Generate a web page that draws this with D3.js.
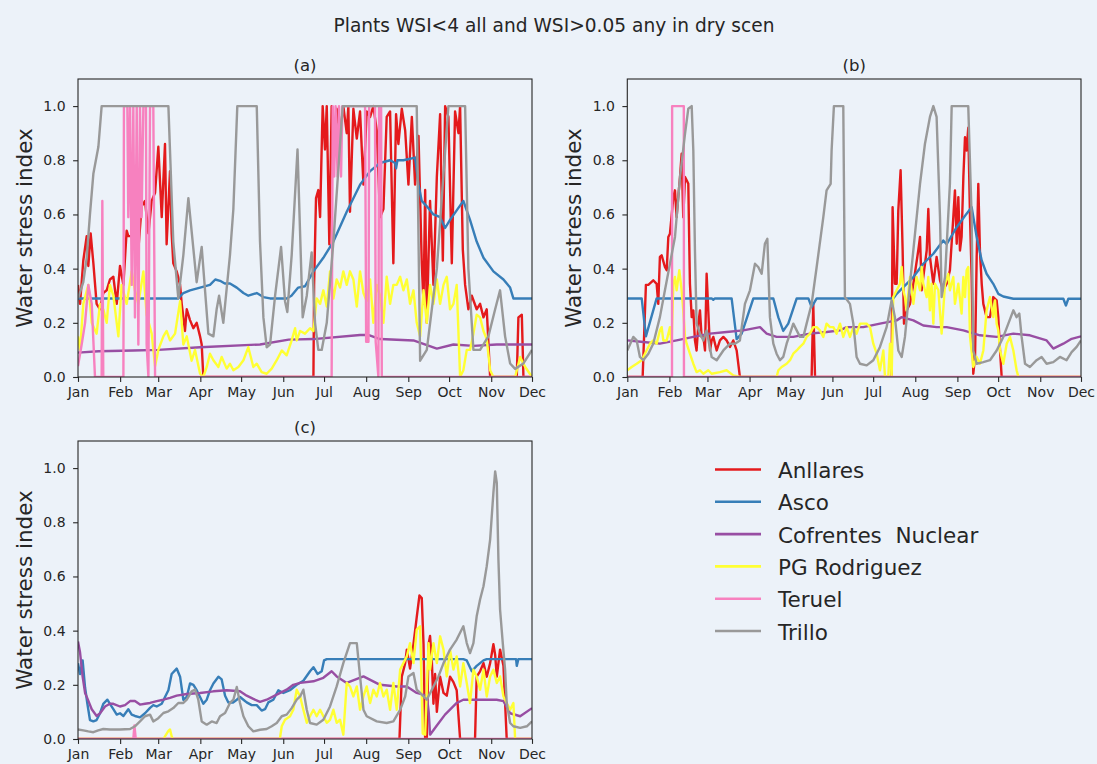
<!DOCTYPE html>
<html><head><meta charset="utf-8">
<script src="https://cdn.jsdelivr.net/npm/d3@7"></script>
<style>
body{margin:0;background:#ecf2f9}
svg{display:block}
text{font-family:"DejaVu Sans",sans-serif;fill:#262626}
</style>
</head><body>
<svg id="chart" width="1097" height="764"></svg>
<script>
const chartTitle = "Plants WSI<4 all and WSI>0.05 any in dry scen";
const panelTitles = ["(a)", "(b)", "(c)"];
const yLabel = "Water stress index";
const seriesNames = ["Anllares", "Asco", "Cofrentes  Nuclear", "PG Rodriguez", "Teruel", "Trillo"];
const seriesColors = ["#e41a1c", "#377eb8", "#984ea3", "#ffff33", "#f781bf", "#999999"];
const monthLabels = ["Jan","Feb","Mar","Apr","May","Jun","Jul","Aug","Sep","Oct","Nov","Dec"];
const yTicks = [0, 0.2, 0.4, 0.6, 0.8, 1.0];

// each series: [day of year (0 = 1 Jan), water stress index]
const a_anllares = [[0,0.34],[1.5,0.27],[3.9,0.43],[6.4,0.52],[7.6,0.41],[9.3,0.53],[11.3,0.42],[13.7,0.27],[16.2,0.25],[18.6,0.31],[21.1,0.32],[23.5,0.36],[26,0.37],[28.5,0.27],[30.9,0.41],[33.4,0.34],[35.8,0.54],[37,0.52],[39.5,0.52],[41.9,0.47],[44.4,0.47],[46.8,0.63],[49.3,0.65],[51.8,0.53],[54.2,0.65],[56.7,0.68],[59.1,0.85],[61.6,0.59],[64,0.86],[65.2,0.49],[67.7,0.76],[68.9,0.53],[70.1,0.42],[72.6,0.39],[75.1,0.34],[76.3,0.27],[78.7,0.17],[80,0.25],[82.4,0.21],[84.9,0.18],[87.3,0.2],[89.8,0.15],[91,0.12],[92.2,0],[173.2,0],[173.7,0.34],[175.1,0.66],[176.8,0.69],[178.1,0.59],[180,1.0],[181.7,0.84],[183,1.0],[184.9,0.49],[186.6,1.0],[189.1,0.84],[190.3,0.99],[192.8,0.9],[195.2,1.0],[197.7,0.9],[198.9,1.0],[200.1,0.61],[202.6,0.99],[205.1,0.88],[207.5,0.98],[210,0.71],[212.4,0.98],[214.9,0.96],[217.3,1.0],[219.8,0.91],[222.2,0.59],[224.7,0.62],[227.1,0.96],[229.6,0.98],[232,0.42],[234,0.97],[235.7,0.86],[238.2,0.99],[240.7,0.91],[243.1,0.71],[245.6,0.96],[248,0.71],[250.5,0.89],[252.9,0.42],[254.2,0.27],[255.4,0.69],[256.6,0.2],[259,0.65],[261.5,0.34],[264,0.74],[266.4,0.97],[268.4,0.43],[270.1,1.0],[272.5,0.96],[275,0.42],[277.4,0.98],[279.9,0.9],[281.1,1.0],[283.1,0.47],[284.8,0.34],[287.2,0.25],[289.7,0.3],[293.3,0.25],[295.8,0.27],[298.3,0.22],[300.7,0.25],[303.2,0],[322.8,0],[324,0.22],[326.5,0.23],[327.7,0],[334,0]];
const a_asco = [[0,0.29],[73.8,0.29],[77.5,0.31],[82.4,0.32],[89.8,0.33],[97.1,0.34],[101,0.36],[104.5,0.355],[108,0.345],[111.8,0.345],[116.8,0.33],[121.7,0.31],[125.3,0.3],[131.5,0.31],[136.4,0.295],[141.3,0.29],[153.5,0.29],[157,0.3],[162,0.33],[167,0.335],[173.2,0.39],[180.5,0.44],[187.9,0.5],[197.7,0.61],[207.5,0.71],[214.9,0.76],[222.2,0.79],[229.6,0.8],[233.3,0.79],[234,0.77],[235,0.8],[239.4,0.8],[248,0.81],[250.5,0.71],[252.9,0.65],[256.6,0.63],[261.5,0.6],[266.4,0.59],[270.1,0.55],[273.7,0.58],[278.6,0.615],[283.5,0.65],[288.4,0.58],[293.3,0.5],[298.3,0.44],[305.6,0.39],[313,0.36],[317.9,0.33],[320.3,0.29],[334,0.29]];
const a_cofrentes = [[0,0.09],[15,0.095],[40.7,0.098],[59,0.1],[89.8,0.11],[133.9,0.12],[155,0.138],[173.2,0.14],[207.5,0.155],[214,0.155],[222.2,0.14],[246.8,0.135],[264,0.105],[276.2,0.12],[290.9,0.115],[308.1,0.12],[334,0.12]];
const a_pg = [[0,0.15],[1.5,0.1],[3.9,0.27],[7.6,0.34],[10.1,0.2],[13.7,0.16],[16.2,0.27],[18.6,0.25],[21.1,0.2],[23.5,0.34],[26,0.3],[29.7,0.15],[32.1,0.34],[35.8,0.27],[39.5,0.39],[41.9,0.32],[44.4,0.27],[48.1,0.39],[50.5,0.23],[54.2,0.16],[56.7,0.04],[59.1,0.1],[62.8,0.15],[65.2,0.17],[67.7,0.135],[71.4,0.16],[75.1,0.28],[77.5,0.12],[80,0.15],[83.6,0.06],[86.1,0.1],[89.8,0.012],[92.2,0],[94.7,0.037],[97.1,0.086],[99.6,0.062],[103.3,0.037],[105.7,0.074],[109.4,0.031],[111.8,0.049],[114.3,0.025],[118,0.037],[121.7,0.062],[125.3,0.11],[129,0.037],[131.5,0.049],[135.1,0.018],[138.8,0.012],[142.5,0.031],[146.2,0.062],[149.9,0.098],[153.5,0.08],[157.2,0.135],[159.7,0.18],[160.9,0.135],[163.4,0.17],[167,0.16],[170.7,0.18],[173.2,0.17],[175.6,0.29],[178.1,0.27],[180.5,0.32],[183,0.26],[185.4,0.39],[187.9,0.29],[190.3,0.36],[192.8,0.33],[195.2,0.39],[197.7,0.34],[200.1,0.39],[202.6,0.36],[205.1,0.26],[207.5,0.39],[210,0.31],[212.4,0.28],[214.9,0.36],[217.3,0.2],[219.8,0.34],[222.2,0.3],[224.7,0.2],[227.1,0.37],[229.6,0.27],[232,0.34],[234.5,0.34],[237,0.37],[239.4,0.32],[241.9,0.36],[244.3,0.27],[246.8,0.32],[249.2,0.2],[251.7,0.15],[254.2,0.32],[256.6,0.2],[259,0.34],[261.5,0.27],[264,0.36],[266.4,0.27],[268.9,0.34],[271.3,0.37],[273.7,0.25],[276.2,0.27],[278.6,0.34],[281.1,0],[283.5,0.025],[286,0.1],[288.4,0.1],[290.9,0.16],[293.3,0.23],[295.8,0.22],[298.3,0.17],[300.7,0.14],[303.2,0.025],[305.6,0],[321.6,0],[325.3,0.074],[329,0.037],[334,0]];
const a_teruel = [[0,0.04],[2.7,0.12],[5.2,0.2],[7.6,0.34],[10.1,0.27],[12.5,0],[17.4,0],[17.9,0.65],[18.6,0],[33.4,0],[33.8,1.0],[36.3,1.0],[37,0.59],[38.3,1.0],[39.5,0.34],[40.7,1.0],[41.9,0.22],[43.2,1.0],[44.4,0.12],[45.6,1.0],[46.8,0.59],[48.1,1.0],[50,1.0],[50.5,0.12],[51.8,0],[53,1.0],[55.4,1.0],[56.7,0],[186.6,0],[187.4,1.0],[188.5,0.74],[189.5,1.0],[191,0.74],[192,1.0],[193.5,0.74],[194.5,1.0],[211.2,1.0],[212,0.13],[213.7,0.13],[214.2,1.0],[218.5,1.0],[219,0.13],[221,0],[221.5,1.0],[223,1.0],[223.5,0],[334,0]];
const a_trillo = [[0,0.29],[3.9,0.35],[6.4,0.44],[8.8,0.6],[11.3,0.75],[15,0.85],[17.4,1.0],[66.5,1.0],[70.1,0.5],[73.8,0.29],[77.5,0.45],[81.2,0.66],[87.3,0.35],[91,0.48],[95.9,0.16],[99.6,0.15],[102,0.25],[103.8,0.3],[106.9,0.2],[111.8,0.45],[114.3,0.62],[117.2,1.0],[131.5,1.0],[133.9,0.5],[136.4,0.22],[138.8,0.11],[141.3,0.12],[145,0.3],[149.4,0.48],[152.3,0.28],[154,0.24],[157.2,0.45],[161.5,0.84],[165.3,0.22],[168.3,0.3],[171.9,0.46],[174.4,0.2],[176.8,0.1],[179.3,0.1],[183,0.2],[187.9,0.5],[192,0.8],[194.7,1.0],[249.2,1.0],[251.7,0.06],[256.6,0.1],[264,0.4],[268.9,0.75],[272.5,1.0],[284.8,1.0],[287.2,0.4],[290.9,0.1],[295.8,0.1],[301.9,0.15],[306.9,0.25],[310.5,0.32],[314.2,0.15],[317.9,0.05],[321.6,0.03],[327.7,0.05],[334,0.1]];

const b_anllares = [[0,0],[11.3,0],[13.7,0.34],[15.5,0.34],[19.1,0.357],[21.6,0.344],[22.8,0.27],[24,0.443],[25.3,0.449],[27.7,0.406],[29,0.394],[30.2,0.517],[31.4,0.529],[33.9,0.664],[35.1,0.689],[36.3,0.59],[37.5,0.664],[38.8,0.738],[40,0.824],[41.2,0.59],[42.5,0.738],[43.7,0.726],[44.9,0.713],[46.1,0.344],[47.4,0.221],[48.6,0.246],[49.8,0.135],[51,0.098],[52.3,0.197],[53.5,0.246],[54.7,0.148],[56,0.148],[57.2,0.098],[58.4,0.381],[59.6,0.246],[60.9,0.098],[62.1,0.135],[63.3,0.148],[65.8,0.098],[68.2,0.135],[70.7,0.148],[73.1,0.135],[75.6,0.111],[78,0.135],[80.5,0.098],[82.9,0],[135.7,0],[136.9,0.27],[138.2,0],[194.6,0],[195.3,0.627],[197,0.344],[198.3,0.344],[199.5,0.615],[201.2,0.763],[202.7,0.467],[203.7,0.197],[205.6,0.246],[208.1,0.27],[210.6,0.344],[214.2,0.467],[215.5,0.517],[216.7,0.32],[217.9,0.369],[220.4,0.467],[221.6,0.62],[222.8,0.443],[225.3,0.344],[227.7,0.443],[230.2,0.357],[232.6,0.32],[235.1,0.344],[237.5,0.394],[240,0.59],[241.2,0.689],[242.5,0.492],[243.7,0.664],[244.9,0.467],[246.1,0.517],[247.4,0.738],[248.6,0.885],[249.8,0.836],[251,0.92],[252.3,0.59],[253.5,0.369],[254.7,0.012],[256,0.074],[257.2,0.443],[258.4,0.713],[259.6,0.467],[260.9,0.344],[262.1,0.27],[264.5,0.221],[267,0.221],[269.4,0.295],[271.9,0.283],[273.1,0.221],[274.4,0.098],[275.6,0],[334,0]];
const b_asco = [[0,0.29],[10.6,0.29],[13.7,0.15],[21.6,0.29],[62.1,0.29],[63.3,0.285],[64.5,0.29],[76.8,0.29],[80.5,0.14],[84.2,0.16],[92.8,0.29],[107.5,0.29],[111.2,0.22],[114.8,0.17],[118.5,0.197],[124.7,0.29],[133.3,0.29],[135.7,0.258],[139.4,0.29],[195.8,0.29],[198.3,0.307],[210.6,0.369],[217.9,0.418],[225.3,0.455],[232.6,0.504],[235.1,0.49],[242.5,0.553],[249.8,0.603],[253.5,0.627],[257.2,0.517],[260.9,0.43],[264.5,0.381],[269.4,0.344],[273.1,0.307],[276.8,0.297],[284.2,0.289],[321,0.289],[322.9,0.264],[324.7,0.289],[334,0.289]];
const b_cofrentes = [[0,0.135],[11.8,0.129],[24,0.123],[36.3,0.135],[48.6,0.148],[60.9,0.16],[73.1,0.166],[85.4,0.172],[97.7,0.184],[102.6,0.16],[109.9,0.148],[122.2,0.148],[134.5,0.16],[146.7,0.166],[156.6,0.172],[161.5,0.184],[173.7,0.184],[186,0.197],[198.3,0.209],[202,0.221],[210.6,0.209],[217.9,0.19],[227.7,0.184],[235.1,0.184],[247.4,0.172],[259.6,0.154],[271.9,0.148],[284.2,0.16],[296.4,0.154],[308.7,0.135],[313.6,0.105],[321,0.123],[327.1,0.141],[334,0.15]];
const b_pg = [[0,0.025],[3.2,0.037],[6.9,0.049],[10.6,0.062],[14.2,0.098],[16.7,0.123],[19.1,0.135],[21.6,0.123],[24,0.172],[25.3,0.184],[26.5,0.135],[29,0.135],[31.4,0.184],[32.6,0.123],[33.9,0.344],[35.1,0.369],[36.3,0.32],[38.3,0.394],[40,0.32],[41.2,0.246],[42.5,0.148],[43.7,0.123],[46.1,0.086],[48.6,0.049],[51,0.018],[53.5,0.025],[56,0.012],[59.6,0.025],[62.1,0.012],[68.2,0.018],[73.1,0.025],[78,0.006],[82.9,0],[109.9,0],[111.2,0.025],[113.6,0.037],[117.3,0.049],[119.8,0.062],[122.2,0.086],[124.7,0.098],[127.1,0.111],[129.6,0.123],[132,0.148],[134.5,0.16],[136.9,0.184],[139.4,0.184],[141.8,0.172],[144.3,0.148],[146.7,0.197],[149.2,0.184],[151.7,0.184],[154.1,0.16],[156.6,0.197],[159,0.148],[161.5,0.184],[163.9,0.148],[166.4,0.184],[168.8,0.16],[171.3,0.197],[173.7,0.197],[176.2,0.197],[178.7,0.184],[181.1,0.123],[183.6,0.086],[186,0.025],[188.5,0.098],[189.7,0],[192.1,0],[193.4,0.123],[194.6,0],[195.8,0.295],[198.3,0.32],[200.7,0.344],[202,0.406],[203.2,0.32],[204.4,0.295],[205.6,0.246],[208.1,0.369],[209.3,0.32],[210.6,0.27],[213,0.369],[214.2,0.344],[215.5,0.32],[216.7,0.406],[217.9,0.344],[220.4,0.295],[221.6,0.369],[222.8,0.246],[224,0.344],[225.3,0.197],[226.5,0.344],[229,0.32],[231.4,0.16],[233.9,0.344],[236.3,0.381],[237.5,0.32],[240,0.369],[241.2,0.27],[243.7,0.344],[246.1,0.234],[247.4,0.369],[248.6,0.295],[249.8,0.394],[251,0.406],[252.3,0.148],[254.7,0.037],[257.2,0.074],[259.6,0.049],[262.1,0.098],[264.5,0.246],[267,0.295],[269.4,0.221],[270.7,0.283],[271.9,0.197],[273.1,0.172],[274.4,0.098],[276.8,0.049],[279.3,0.123],[281.7,0.148],[284.2,0.098],[286.6,0.025],[287.9,0],[334,0]];
const b_teruel = [[0,0],[32.9,0],[33,1.0],[41.6,1.0],[41.7,0],[334,0]];
const b_trillo = [[0,0.098],[4.4,0.148],[6.9,0.135],[9.3,0.074],[11.8,0.062],[15.5,0.086],[19.1,0.123],[24,0.221],[27.7,0.32],[31.4,0.418],[35.1,0.517],[38.8,0.738],[42.5,0.898],[44.9,0.99],[47.4,1.0],[48.6,0.836],[49.8,0.467],[51,0.197],[53.5,0.16],[56,0.135],[58.4,0.172],[62.1,0.074],[65.8,0.062],[70.7,0.098],[75.6,0.123],[79.3,0.123],[82.9,0.135],[86.6,0.27],[90.3,0.32],[94,0.418],[96.4,0.406],[98.9,0.381],[101.3,0.492],[103.1,0.51],[105,0.221],[107.5,0.123],[109.9,0.086],[112.4,0.062],[114.8,0.074],[117.3,0.123],[119.8,0.16],[122.2,0.197],[124.7,0.172],[127.1,0.148],[129.6,0.148],[132,0.197],[135.7,0.27],[139.4,0.406],[144.3,0.59],[146.7,0.689],[149.7,0.713],[150.4,0.836],[152.1,1.0],[159,1.0],[160.2,0.295],[163.9,0.27],[166.4,0.197],[168.8,0.074],[171.3,0.049],[176.2,0.043],[181.1,0.062],[186,0.111],[190.9,0.184],[194.6,0.283],[197,0.221],[199.5,0.098],[202,0.074],[204.4,0.148],[208.1,0.344],[211.8,0.529],[215.5,0.713],[219.1,0.86],[222.8,0.96],[225.3,1.0],[227.7,0.96],[230.2,0.59],[231.4,0.295],[233.9,0.369],[237.5,0.713],[238.8,1.0],[251,1.0],[253.5,0.59],[254.7,0.098],[257.2,0.049],[262.1,0.055],[267,0.062],[271.9,0.098],[276.8,0.148],[280.5,0.197],[284.2,0.246],[286.6,0.221],[288.6,0.234],[290.3,0.148],[292.8,0.049],[296.4,0.037],[301.3,0.062],[305,0.074],[308.7,0.049],[313.6,0.055],[318.5,0.074],[323.4,0.062],[327.1,0.092],[330.8,0.111],[334,0.135]];

const c_anllares = [[0,0],[236.5,0],[238.2,0.23],[240.7,0.28],[241.9,0.33],[244.3,0.26],[246.8,0.35],[249.2,0.45],[251.2,0.53],[252.9,0.52],[254.2,0.35],[255.4,0],[256.6,0],[257.9,0.35],[259,0.38],[260.3,0.29],[261.5,0.13],[262.7,0.24],[264,0.1],[266.4,0.23],[268.9,0.17],[271.3,0.16],[273.7,0.23],[276.2,0.21],[278.6,0.18],[281.1,0],[292.1,0],[293.3,0.23],[295.8,0.25],[298.3,0.28],[300.7,0.23],[303.2,0.28],[305.6,0.35],[306.9,0.31],[308.1,0.23],[310.5,0.33],[313,0.27],[315.4,0],[334,0]];
const c_asco = [[0,0.28],[1.5,0.24],[3.4,0.29],[5.2,0.19],[6.9,0.13],[8.8,0.07],[11.3,0.065],[13.7,0.07],[16.2,0.095],[18.6,0.13],[21.6,0.145],[23.5,0.13],[26,0.11],[28.5,0.09],[30.9,0.095],[33.4,0.085],[37,0.11],[39.5,0.09],[41.9,0.085],[45.6,0.08],[49.3,0.095],[53,0.115],[55.4,0.125],[57.9,0.12],[61.6,0.13],[64,0.155],[66.5,0.18],[68.9,0.24],[72.6,0.26],[75.1,0.23],[77.5,0.145],[80,0.155],[82.4,0.205],[84.9,0.2],[87.3,0.18],[89.8,0.155],[92.2,0.13],[94.7,0.145],[97.1,0.18],[99.6,0.205],[103.3,0.23],[105.7,0.22],[108.2,0.16],[110.6,0.135],[114.3,0.135],[116.8,0.145],[119.2,0.155],[121.7,0.145],[124.1,0.135],[127.8,0.125],[131.5,0.125],[135.1,0.105],[137.6,0.11],[140,0.135],[143.7,0.145],[147.4,0.18],[151.1,0.17],[155.9,0.18],[160.9,0.2],[165.8,0.215],[170.7,0.25],[173.2,0.265],[176.2,0.24],[179.3,0.25],[181,0.29],[183,0.295],[283.5,0.295],[286,0.29],[289.7,0.25],[293.3,0.27],[298.3,0.29],[300.7,0.295],[322.3,0.295],[322.8,0.27],[324,0.295],[334,0.295]];
const c_cofrentes = [[0,0.36],[1.5,0.32],[3.4,0.23],[5.2,0.17],[6.9,0.15],[10.1,0.11],[13.7,0.085],[16.2,0.095],[19.9,0.12],[23.5,0.13],[26,0.13],[30.9,0.12],[34.6,0.125],[38.3,0.14],[41.9,0.14],[45.6,0.127],[49.3,0.13],[53,0.133],[57.9,0.14],[62.8,0.145],[67.7,0.152],[72.6,0.16],[80,0.166],[89.8,0.17],[99.6,0.176],[109.4,0.18],[119.2,0.176],[124.1,0.16],[129,0.148],[133.9,0.137],[138.8,0.145],[146.2,0.164],[153.5,0.182],[158.4,0.2],[163.4,0.207],[173.2,0.213],[180.5,0.226],[186.6,0.25],[190.3,0.231],[197.7,0.207],[210,0.231],[222.2,0.2],[234.5,0.194],[241.9,0.194],[249.2,0.17],[256.6,0.16],[258,0.1],[259,0.016],[264,0.05],[270,0.09],[278.6,0.133],[283.5,0.145],[300,0.145],[308,0.145],[313,0.14],[317.9,0.095],[325.3,0.084],[334,0.114]];
const c_pg = [[0,0],[62.8,0],[64,0.01],[66.5,0.03],[67.7,0.035],[68.9,0.01],[70.1,0],[148.5,0],[149.9,0.047],[152.3,0.071],[156,0.084],[158.4,0.108],[160.9,0.182],[163.4,0.157],[165.8,0.108],[168.3,0.06],[170.7,0.084],[173.2,0.108],[175.6,0.084],[178.1,0.108],[180.5,0.084],[183,0.06],[185.4,0.071],[187.9,0.108],[190.3,0.06],[192.8,0.071],[195.2,0.016],[197.7,0.207],[200.1,0.194],[202.6,0.157],[205.1,0.194],[207.5,0.108],[210,0.157],[212.4,0.194],[214.9,0.133],[217.3,0.182],[219.8,0.157],[222.2,0.207],[224.7,0.157],[227.1,0.182],[229.6,0.108],[232,0.207],[234.5,0.108],[237,0.256],[239.4,0.28],[241.9,0.305],[244.3,0.354],[246.8,0.28],[249.2,0.404],[251.7,0.416],[253.6,0.02],[255.4,0.016],[257.9,0.354],[259,0.256],[261.5,0.354],[264,0.28],[266.4,0.379],[268.9,0.33],[271.3,0.231],[273.7,0.33],[276.2,0.256],[278.6,0.305],[281.1,0.194],[283.5,0.28],[286,0.207],[288.4,0.133],[290.9,0.256],[293.3,0.231],[295.8,0.182],[298.3,0.256],[300.7,0.157],[303.2,0.231],[305.6,0.256],[308.1,0.207],[310.5,0.231],[313,0.157],[315.4,0.133],[317.9,0.108],[320.3,0.133],[321.6,0],[334,0]];
const c_teruel = [[0,0],[40.7,0],[41.5,0.05],[42.5,0],[334,0]];
const c_trillo = [[0,0.035],[3.9,0.032],[7.6,0.028],[11.3,0.025],[14.9,0.032],[18.6,0.037],[23.5,0.035],[30.9,0.035],[38.3,0.037],[41.9,0.047],[45.6,0.065],[49.3,0.084],[53,0.09],[55.4,0.065],[59.1,0.077],[62.8,0.096],[66.5,0.102],[70.1,0.114],[73.8,0.133],[77.5,0.133],[80,0.145],[83.6,0.176],[86.1,0.182],[88.5,0.145],[91,0.065],[94.7,0.053],[98.4,0.065],[102,0.059],[104.5,0.084],[108.2,0.096],[111.8,0.133],[114.3,0.145],[116.8,0.192],[119.2,0.133],[121.7,0.084],[125.3,0.047],[129,0.028],[133.9,0.034],[138.8,0.037],[142.5,0.047],[146.2,0.059],[149.9,0.084],[153.5,0.09],[157.2,0.114],[160.9,0.145],[163.4,0.157],[165.8,0.182],[168.3,0.108],[170.7,0.059],[175.6,0.053],[180.5,0.071],[185.4,0.12],[190.3,0.194],[195.2,0.28],[200.1,0.354],[205.1,0.354],[207.5,0.231],[210,0.108],[212.4,0.084],[219.8,0.065],[227.1,0.059],[232,0.065],[237,0.108],[240.7,0.157],[243.1,0.231],[246.8,0.244],[249.2,0.182],[251.7,0.17],[256.6,0.145],[261.5,0.194],[265.2,0.231],[268.9,0.28],[273.7,0.33],[278.6,0.367],[283.5,0.416],[286,0.354],[288.4,0.317],[290.9,0.354],[293.3,0.453],[295.8,0.515],[298.3,0.564],[300.7,0.638],[303.2,0.736],[305.6,0.909],[306.9,0.988],[308.1,0.945],[309.3,0.662],[310.5,0.478],[312.5,0.354],[314.2,0.256],[315.4,0.133],[317.9,0.059],[320.3,0.047],[325.3,0.041],[330.2,0.047],[334,0.065]];

const panelSeries = [
  [a_anllares, a_asco, a_cofrentes, a_pg, a_teruel, a_trillo],
  [b_anllares, b_asco, b_cofrentes, b_pg, b_teruel, b_trillo],
  [c_anllares, c_asco, c_cofrentes, c_pg, c_teruel, c_trillo]
];

const svg = d3.select("#chart");
const BG = "#ecf2f9";
svg.append("rect").attr("width", 1097).attr("height", 764).attr("fill", BG);

const t0 = Date.UTC(2001, 0, 1);
const toDate = d => new Date(t0 + d * 864e5);
const monthDates = monthLabels.map((m, i) => new Date(Date.UTC(2001, i, 1)));

const layout = [
  {l: 78, r: 532, t: 79, b: 377},
  {l: 627.3, r: 1081, t: 79, b: 377},
  {l: 78, r: 532, t: 441, b: 739}
];

svg.append("text").attr("x", 554).attr("y", 31.5).attr("text-anchor", "middle")
  .style("font-size", "18.6px").text(chartTitle);

layout.forEach((L, pi) => {
  const x = d3.scaleUtc().domain([toDate(0), monthDates[11]]).range([L.l, L.r]);
  const y = d3.scaleLinear().domain([0, 1.1]).range([L.b, L.t]);
  const g = svg.append("g");
  const cid = "clip" + pi;
  svg.append("clipPath").attr("id", cid).append("rect")
    .attr("x", L.l).attr("y", L.t).attr("width", L.r - L.l).attr("height", L.b - L.t);
  const line = d3.line().x(d => x(toDate(d[0]))).y(d => y(d[1]));
  const lg = g.append("g").attr("clip-path", `url(#${cid})`);
  panelSeries[pi].forEach((s, si) => {
    lg.append("path").attr("d", line(s)).attr("fill", "none")
      .attr("stroke", seriesColors[si]).attr("stroke-width", 2.4)
      .attr("stroke-linejoin", "round").attr("stroke-linecap", "butt");
  });
  const xAxis = d3.axisBottom(x).tickValues(monthDates)
    .tickFormat((d, i) => monthLabels[i]).tickSizeInner(4.9).tickSizeOuter(0).tickPadding(5.5);
  const gx = g.append("g").attr("transform", `translate(0,${L.b})`).call(xAxis);
  const yAxis = d3.axisLeft(y).tickValues(yTicks).tickFormat(d3.format(".1f"))
    .tickSizeInner(4.9).tickSizeOuter(0).tickPadding(7.5);
  const gy = g.append("g").attr("transform", `translate(${L.l},0)`).call(yAxis);
  [gx, gy].forEach(a => {
    a.select(".domain").remove();
    a.selectAll(".tick line").attr("stroke", "#262626").attr("stroke-width", 1.1);
    a.selectAll(".tick text").attr("fill", "#262626")
      .style("font-family", "'DejaVu Sans', sans-serif").style("font-size", "14px");
  });
  g.append("rect").attr("x", L.l).attr("y", L.t).attr("width", L.r - L.l).attr("height", L.b - L.t)
    .attr("fill", "none").attr("stroke", "#262626").attr("stroke-width", 1.1);
  g.append("text").attr("x", (L.l + L.r) / 2).attr("y", L.t - 8.5).attr("text-anchor", "middle")
    .style("font-size", "16.5px").text(panelTitles[pi]);
  g.append("text").attr("transform", `translate(${L.l - 46.5},${(L.t + L.b) / 2}) rotate(-90)`)
    .attr("text-anchor", "middle").style("font-size", "21.5px").text(yLabel);
});

// legend
const leg = svg.append("g");
seriesNames.forEach((n, i) => {
  const by = 478 + i * 32.3;
  leg.append("line").attr("x1", 715).attr("x2", 761).attr("y1", by - 8.5).attr("y2", by - 8.5)
    .attr("stroke", seriesColors[i]).attr("stroke-width", 2.6);
  leg.append("text").attr("x", 778).attr("y", by).style("font-size", "21.5px")
    .style("white-space", "pre").text(n);
});
</script>
</body></html>
